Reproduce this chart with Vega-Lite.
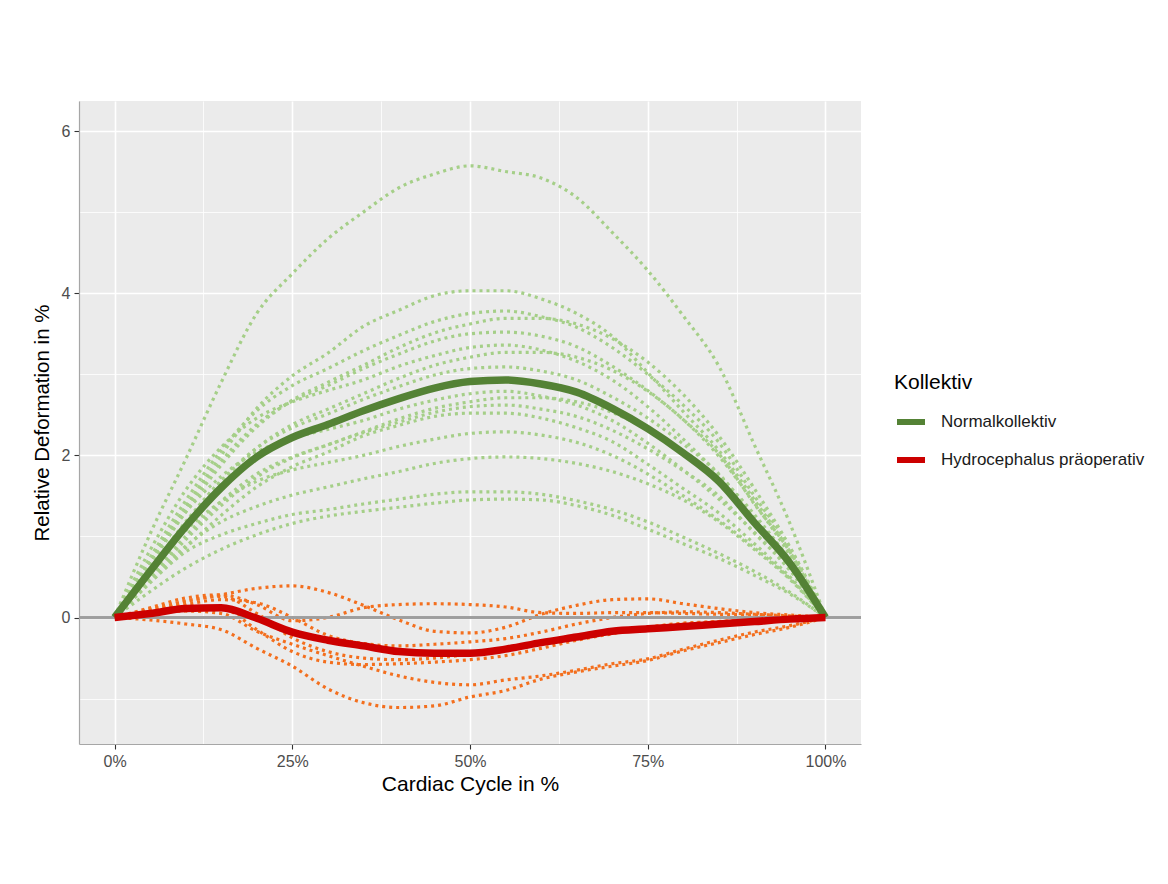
{
  "$schema": "https://vega.github.io/schema/vega-lite/v6.json",
  "width": 782,
  "height": 643,
  "autosize": {"type": "none"},
  "padding": {"left": 79, "top": 101, "right": 307, "bottom": 140},
  "background": "white",
  "config": {
    "font": "Liberation Sans",
    "view": {"fill": "#EBEBEB", "stroke": null}
  },
  "datasets": {
    "curves": [
      {"x": 0, "n1": 0, "n2": 0, "n3": 0, "n4": 0, "n5": 0, "n6": 0, "n7": 0, "n8": 0, "n9": 0, "n10": 0, "n11": 0, "n12": 0, "n13": 0, "n14": 0, "n15": 0, "n16": 0, "o1": 0, "o2": 0, "o3": 0, "o4": 0, "o5": 0, "o6": 0, "o7": 0, "Normalkollektiv": 0, "Hydrocephalus präoperativ": 0},
      {"x": 5, "n1": 1.03, "n2": 0.69, "n3": 0.74, "n4": 0.65, "n5": 0.69, "n6": 0.83, "n7": 0.58, "n8": 0.6, "n9": 0.69, "n10": 0.48, "n11": 0.51, "n12": 0.43, "n13": 0.57, "n14": 0.47, "n15": 0.43, "n16": 0.32, "o1": 0.1, "o2": 0.12, "o3": -0.03, "o4": 0.05, "o5": 0.08, "o6": 0.06, "o7": 0.07, "Normalkollektiv": 0.57, "Hydrocephalus präoperativ": 0.05},
      {"x": 10, "n1": 1.95, "n2": 1.37, "n3": 1.44, "n4": 1.3, "n5": 1.35, "n6": 1.57, "n7": 1.16, "n8": 1.18, "n9": 1.3, "n10": 0.96, "n11": 1.0, "n12": 0.86, "n13": 1.07, "n14": 0.88, "n15": 0.81, "n16": 0.61, "o1": 0.2, "o2": 0.24, "o3": -0.08, "o4": 0.08, "o5": 0.2, "o6": 0.14, "o7": 0.16, "Normalkollektiv": 1.12, "Hydrocephalus präoperativ": 0.11},
      {"x": 15, "n1": 2.9, "n2": 2.0, "n3": 2.06, "n4": 1.88, "n5": 1.93, "n6": 2.1, "n7": 1.67, "n8": 1.69, "n9": 1.74, "n10": 1.38, "n11": 1.43, "n12": 1.26, "n13": 1.43, "n14": 1.18, "n15": 1.02, "n16": 0.84, "o1": 0.28, "o2": 0.28, "o3": -0.15, "o4": 0.05, "o5": 0.26, "o6": 0.12, "o7": 0.22, "Normalkollektiv": 1.6, "Hydrocephalus präoperativ": 0.12},
      {"x": 20, "n1": 3.75, "n2": 2.58, "n3": 2.55, "n4": 2.35, "n5": 2.38, "n6": 2.46, "n7": 2.09, "n8": 2.09, "n9": 2.04, "n10": 1.73, "n11": 1.77, "n12": 1.61, "n13": 1.68, "n14": 1.37, "n15": 1.16, "n16": 1.02, "o1": 0.36, "o2": 0.16, "o3": -0.38, "o4": -0.17, "o5": 0.05, "o6": -0.15, "o7": 0.18, "Normalkollektiv": 1.98, "Hydrocephalus präoperativ": -0.01},
      {"x": 25, "n1": 4.24, "n2": 2.98, "n3": 2.86, "n4": 2.68, "n5": 2.67, "n6": 2.66, "n7": 2.38, "n8": 2.34, "n9": 2.21, "n10": 1.97, "n11": 1.98, "n12": 1.86, "n13": 1.82, "n14": 1.51, "n15": 1.27, "n16": 1.16, "o1": 0.39, "o2": -0.04, "o3": -0.6, "o4": -0.33, "o5": -0.25, "o6": -0.42, "o7": 0, "Normalkollektiv": 2.22, "Hydrocephalus präoperativ": -0.18},
      {"x": 30, "n1": 4.67, "n2": 3.26, "n3": 3.07, "n4": 2.9, "n5": 2.86, "n6": 2.8, "n7": 2.57, "n8": 2.51, "n9": 2.32, "n10": 2.13, "n11": 2.13, "n12": 2.04, "n13": 1.91, "n14": 1.61, "n15": 1.33, "n16": 1.25, "o1": 0.31, "o2": 0, "o3": -0.88, "o4": -0.47, "o5": -0.42, "o6": -0.55, "o7": -0.22, "Normalkollektiv": 2.38, "Hydrocephalus präoperativ": -0.28},
      {"x": 35, "n1": 5.0, "n2": 3.59, "n3": 3.29, "n4": 3.11, "n5": 3.07, "n6": 2.93, "n7": 2.76, "n8": 2.69, "n9": 2.43, "n10": 2.29, "n11": 2.28, "n12": 2.24, "n13": 2.0, "n14": 1.71, "n15": 1.4, "n16": 1.31, "o1": 0.15, "o2": 0.12, "o3": -1.05, "o4": -0.6, "o5": -0.5, "o6": -0.58, "o7": -0.32, "Normalkollektiv": 2.55, "Hydrocephalus präoperativ": -0.35},
      {"x": 40, "n1": 5.3, "n2": 3.79, "n3": 3.48, "n4": 3.33, "n5": 3.25, "n6": 3.1, "n7": 2.95, "n8": 2.85, "n9": 2.57, "n10": 2.45, "n11": 2.41, "n12": 2.37, "n13": 2.11, "n14": 1.8, "n15": 1.46, "n16": 1.36, "o1": -0.03, "o2": 0.16, "o3": -1.11, "o4": -0.72, "o5": -0.52, "o6": -0.57, "o7": -0.35, "Normalkollektiv": 2.7, "Hydrocephalus präoperativ": -0.42},
      {"x": 45, "n1": 5.47, "n2": 3.97, "n3": 3.65, "n4": 3.51, "n5": 3.41, "n6": 3.23, "n7": 3.11, "n8": 2.99, "n9": 2.68, "n10": 2.58, "n11": 2.53, "n12": 2.48, "n13": 2.2, "n14": 1.9, "n15": 1.52, "n16": 1.41, "o1": -0.17, "o2": 0.17, "o3": -1.09, "o4": -0.8, "o5": -0.5, "o6": -0.55, "o7": -0.33, "Normalkollektiv": 2.83, "Hydrocephalus präoperativ": -0.44},
      {"x": 50, "n1": 5.57, "n2": 4.03, "n3": 3.75, "n4": 3.62, "n5": 3.5, "n6": 3.33, "n7": 3.21, "n8": 3.07, "n9": 2.76, "n10": 2.66, "n11": 2.6, "n12": 2.52, "n13": 2.27, "n14": 1.96, "n15": 1.55, "n16": 1.45, "o1": -0.19, "o2": 0.16, "o3": -0.98, "o4": -0.83, "o5": -0.45, "o6": -0.52, "o7": -0.3, "Normalkollektiv": 2.91, "Hydrocephalus präoperativ": -0.44},
      {"x": 55, "n1": 5.5, "n2": 4.03, "n3": 3.78, "n4": 3.69, "n5": 3.52, "n6": 3.36, "n7": 3.27, "n8": 3.09, "n9": 2.79, "n10": 2.71, "n11": 2.62, "n12": 2.52, "n13": 2.29, "n14": 1.98, "n15": 1.55, "n16": 1.46, "o1": -0.12, "o2": 0.13, "o3": -0.9, "o4": -0.77, "o5": -0.38, "o6": -0.47, "o7": -0.26, "Normalkollektiv": 2.93, "Hydrocephalus präoperativ": -0.39},
      {"x": 60, "n1": 5.42, "n2": 3.93, "n3": 3.71, "n4": 3.69, "n5": 3.47, "n6": 3.3, "n7": 3.27, "n8": 3.04, "n9": 2.73, "n10": 2.71, "n11": 2.57, "n12": 2.46, "n13": 2.25, "n14": 1.96, "n15": 1.52, "n16": 1.45, "o1": 0.04, "o2": 0.06, "o3": -0.76, "o4": -0.72, "o5": -0.3, "o6": -0.38, "o7": -0.18, "Normalkollektiv": 2.88, "Hydrocephalus präoperativ": -0.31},
      {"x": 65, "n1": 5.18, "n2": 3.75, "n3": 3.58, "n4": 3.62, "n5": 3.34, "n6": 3.16, "n7": 3.21, "n8": 2.93, "n9": 2.62, "n10": 2.66, "n11": 2.48, "n12": 2.34, "n13": 2.16, "n14": 1.9, "n15": 1.44, "n16": 1.38, "o1": 0.15, "o2": 0.05, "o3": -0.67, "o4": -0.65, "o5": -0.22, "o6": -0.28, "o7": -0.08, "Normalkollektiv": 2.78, "Hydrocephalus präoperativ": -0.24},
      {"x": 70, "n1": 4.75, "n2": 3.47, "n3": 3.33, "n4": 3.44, "n5": 3.1, "n6": 2.93, "n7": 3.05, "n8": 2.72, "n9": 2.43, "n10": 2.53, "n11": 2.31, "n12": 2.17, "n13": 2.0, "n14": 1.8, "n15": 1.33, "n16": 1.26, "o1": 0.22, "o2": 0.06, "o3": -0.6, "o4": -0.57, "o5": -0.17, "o6": -0.2, "o7": 0, "Normalkollektiv": 2.58, "Hydrocephalus präoperativ": -0.17},
      {"x": 75, "n1": 4.28, "n2": 3.02, "n3": 3.0, "n4": 3.15, "n5": 2.8, "n6": 2.6, "n7": 2.79, "n8": 2.46, "n9": 2.15, "n10": 2.31, "n11": 2.08, "n12": 1.89, "n13": 1.77, "n14": 1.65, "n15": 1.18, "n16": 1.09, "o1": 0.23, "o2": 0.06, "o3": -0.53, "o4": -0.51, "o5": -0.12, "o6": -0.12, "o7": 0.05, "Normalkollektiv": 2.33, "Hydrocephalus präoperativ": -0.14},
      {"x": 80, "n1": 3.72, "n2": 2.54, "n3": 2.62, "n4": 2.75, "n5": 2.44, "n6": 2.2, "n7": 2.44, "n8": 2.14, "n9": 1.82, "n10": 2.02, "n11": 1.81, "n12": 1.59, "n13": 1.5, "n14": 1.45, "n15": 0.99, "n16": 0.91, "o1": 0.17, "o2": 0.05, "o3": -0.41, "o4": -0.39, "o5": -0.08, "o6": -0.07, "o7": 0.07, "Normalkollektiv": 2.03, "Hydrocephalus präoperativ": -0.11},
      {"x": 85, "n1": 3.1, "n2": 2.06, "n3": 2.16, "n4": 2.24, "n5": 2.02, "n6": 1.76, "n7": 1.99, "n8": 1.77, "n9": 1.46, "n10": 1.65, "n11": 1.5, "n12": 1.29, "n13": 1.2, "n14": 1.18, "n15": 0.79, "n16": 0.73, "o1": 0.11, "o2": 0.04, "o3": -0.31, "o4": -0.28, "o5": -0.05, "o6": -0.05, "o7": 0.06, "Normalkollektiv": 1.68, "Hydrocephalus präoperativ": -0.08},
      {"x": 90, "n1": 2.13, "n2": 1.45, "n3": 1.5, "n4": 1.59, "n5": 1.4, "n6": 1.27, "n7": 1.41, "n8": 1.23, "n9": 1.05, "n10": 1.17, "n11": 1.04, "n12": 0.91, "n13": 0.86, "n14": 0.84, "n15": 0.57, "n16": 0.52, "o1": 0.06, "o2": 0.03, "o3": -0.21, "o4": -0.18, "o5": -0.03, "o6": -0.03, "o7": 0.04, "Normalkollektiv": 1.17, "Hydrocephalus präoperativ": -0.05},
      {"x": 95, "n1": 1.16, "n2": 0.81, "n3": 0.86, "n4": 0.87, "n5": 0.81, "n6": 0.7, "n7": 0.77, "n8": 0.71, "n9": 0.58, "n10": 0.64, "n11": 0.6, "n12": 0.5, "n13": 0.48, "n14": 0.47, "n15": 0.31, "n16": 0.29, "o1": 0.03, "o2": 0.01, "o3": -0.12, "o4": -0.1, "o5": -0.01, "o6": -0.01, "o7": 0.02, "Normalkollektiv": 0.67, "Hydrocephalus präoperativ": -0.02},
      {"x": 100, "n1": 0, "n2": 0, "n3": 0, "n4": 0, "n5": 0, "n6": 0, "n7": 0, "n8": 0, "n9": 0, "n10": 0, "n11": 0, "n12": 0, "n13": 0, "n14": 0, "n15": 0, "n16": 0, "o1": 0, "o2": 0, "o3": 0, "o4": 0, "o5": 0, "o6": 0, "o7": 0, "Normalkollektiv": 0, "Hydrocephalus präoperativ": 0}
    ]
  },
  "data": {"name": "curves"},
  "layer": [
    {
      "transform": [{"fold": ["n1", "n2", "n3", "n4", "n5", "n6", "n7", "n8", "n9", "n10", "n11", "n12", "n13", "n14", "n15", "n16"], "as": ["id", "v"]}],
      "mark": {"type": "line", "color": "#A5CF88", "strokeWidth": 3.2, "strokeDash": [3, 4], "interpolate": "monotone"},
      "encoding": {
        "x": {"field": "x", "type": "quantitative", "scale": {"domain": [-5, 105], "nice": false, "zero": false},
          "axis": {"orient": "top", "values": [12.5, 37.5, 62.5, 87.5], "grid": true, "gridColor": "white", "gridWidth": 0.8, "labels": false, "ticks": false, "domain": false, "title": null}},
        "y": {"field": "v", "type": "quantitative", "scale": {"domain": [-1.56, 6.37], "nice": false, "zero": false},
          "axis": {"orient": "right", "values": [-1, 1, 3, 5], "grid": true, "gridColor": "white", "gridWidth": 0.8, "labels": false, "ticks": false, "domain": false, "title": null}},
        "detail": {"field": "id"}
      }
    },
    {
      "transform": [{"fold": ["o1", "o2", "o3", "o4", "o5", "o6", "o7"], "as": ["id", "v"]}],
      "mark": {"type": "line", "color": "#F36F1E", "strokeWidth": 3.2, "strokeDash": [3, 4], "interpolate": "monotone"},
      "encoding": {
        "x": {"field": "x", "type": "quantitative", "scale": {"domain": [-5, 105], "nice": false, "zero": false},
          "axis": {"orient": "bottom", "values": [0, 25, 50, 75, 100], "labelExpr": "datum.value + '%'", "grid": true, "gridColor": "white", "gridWidth": 1.6,
            "domainColor": "#A6A6A6", "domainWidth": 1.2, "tickColor": "#333333", "tickSize": 5, "tickWidth": 1.1,
            "labelColor": "#4D4D4D", "labelFontSize": 16, "labelPadding": 4,
            "title": "Cardiac Cycle in %", "titleFontSize": 21, "titleColor": "black", "titleFontWeight": "normal", "titlePadding": 4}},
        "y": {"field": "v", "type": "quantitative", "scale": {"domain": [-1.56, 6.37], "nice": false, "zero": false},
          "axis": {"orient": "left", "values": [0, 2, 4, 6], "grid": true, "gridColor": "white", "gridWidth": 1.6,
            "domainColor": "#A6A6A6", "domainWidth": 1.2, "tickColor": "#333333", "tickSize": 5, "tickWidth": 1.1,
            "labelColor": "#4D4D4D", "labelFontSize": 16, "labelPadding": 4,
            "title": "Relative Deformation in %", "titleFontSize": 20.5, "titleColor": "black", "titleFontWeight": "normal", "titlePadding": 9}},
        "detail": {"field": "id"}
      }
    },
    {
      "mark": {"type": "rule", "color": "#9E9E9E", "strokeWidth": 1.4},
      "encoding": {"y": {"datum": 0, "type": "quantitative", "axis": null}}
    },
    {
      "transform": [{"fold": ["Normalkollektiv", "Hydrocephalus präoperativ"], "as": ["Kollektiv", "v"]}],
      "mark": {"type": "line", "strokeWidth": 7.5, "interpolate": "monotone"},
      "encoding": {
        "x": {"field": "x", "type": "quantitative", "axis": null},
        "y": {"field": "v", "type": "quantitative", "axis": null},
        "color": {"field": "Kollektiv", "type": "nominal",
          "scale": {"domain": ["Normalkollektiv", "Hydrocephalus präoperativ"], "range": ["#548235", "#CC0000"]},
          "legend": {"orient": "none", "legendX": 815, "legendY": 271, "padding": 0,
            "title": "Kollektiv", "titleFontSize": 21, "titleColor": "black", "titleFontWeight": "normal", "titlePadding": 12, "titleLimit": 0,
            "symbolType": "stroke", "symbolStrokeWidth": 6, "symbolSize": 784,
            "labelFontSize": 17, "labelColor": "#1A1A1A", "labelOffset": 13, "labelLimit": 0, "rowPadding": 9}}
      }
    }
  ],
  "resolve": {"axis": {"x": "independent", "y": "independent"}}
}
